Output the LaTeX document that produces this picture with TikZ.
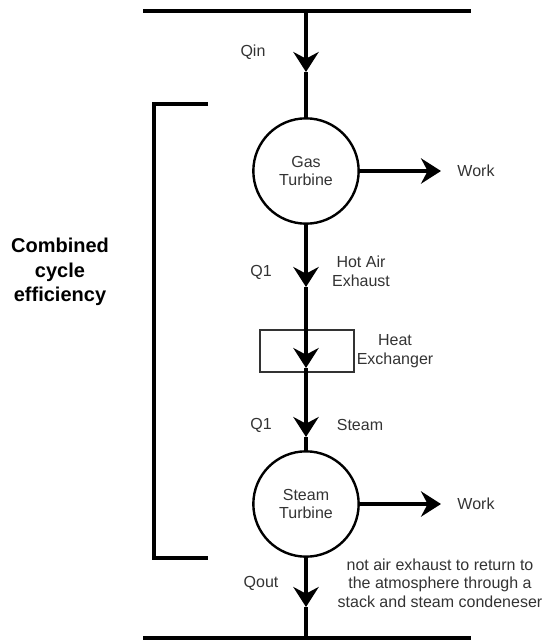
\documentclass[tikz,border=0pt]{standalone}
\usepackage{fontspec}
\setmainfont{Liberation Sans}
\usetikzlibrary{arrows.meta}
\definecolor{txt}{HTML}{333333}
\tikzset{
  flow/.style={line width=3pt, black},
  flowtip/.style={flow, -{Stealth[length=15pt, width=19pt, inset=5pt]}},
  worktip/.style={line width=3pt, -{Stealth[length=15pt, width=19pt, inset=5pt]}},
  turbine/.style={circle, draw, line width=1.8pt, minimum size=79pt, inner sep=0pt,
    align=center, font=\fontsize{12pt}{13.5pt}\selectfont, text=txt},
  hxbox/.style={draw=txt, line width=1.6pt, minimum width=70pt, minimum height=31pt, inner sep=0pt},
  lbl/.style={font=\fontsize{12pt}{14pt}\selectfont, text=txt, align=center, inner sep=0pt},
  bigl/.style={font=\bfseries\fontsize{15pt}{18.5pt}\selectfont, align=center, inner sep=0pt},
  rail/.style={line width=3pt, black},
}
\begin{document}
\begin{tikzpicture}[x=0.75pt, y=-0.75pt]
\useasboundingbox (0,0) rectangle (545,644);

% supply and exhaust rails
\coordinate (topL) at (143,11);
\coordinate (topR) at (471,11);
\coordinate (botL) at (143,638);
\coordinate (botR) at (471,638);
\draw[rail] (topL) -- (topR);
\draw[rail] (botL) -- (botR);

% components
\node[turbine] (gt) at (306,171) {Gas\\Turbine};
\node[hxbox] (hx) at (307,351) {};
\node[turbine] (st) at (306,504) {Steam\\Turbine};

% flow path points
\coordinate (qinTop) at (306,11);
\coordinate (qinTip) at (306,72);
\coordinate (hotTip) at (306,287);
\coordinate (hxTip) at (306,368);
\coordinate (stmTip) at (306,437);
\coordinate (outTip) at (306,607);
\coordinate (outEnd) at (306,638);
\coordinate (gtWork) at (441,171);
\coordinate (stWork) at (441,504);

% main heat flow
\draw[flowtip] (qinTop) -- (qinTip);
\draw[flow] (qinTip) -- (gt.north);
\draw[flowtip] (gt.south) -- (hotTip);
\draw[flowtip] (hotTip) -- (hxTip);
\draw[flowtip] (hxTip) -- (stmTip);
\draw[flow] (stmTip) -- (st.north);
\draw[flowtip] (st.south) -- (outTip);
\draw[flow] (outTip) -- (outEnd);

% work output
\draw[worktip] (gt.east) -- (gtWork);
\draw[worktip] (st.east) -- (stWork);

% bracket around the combined cycle
\coordinate (brTop) at (208,104);
\coordinate (brTopL) at (154,104);
\coordinate (brBotL) at (154,558);
\coordinate (brBot) at (208,558);
\draw[line width=3pt, line join=miter] (brTop) -- (brTopL) -- (brBotL) -- (brBot);

% labels
\node[lbl] (lqin) at (253,52) {Qin};
\node[lbl] (lw1) at (476,171) {Work};
\node[lbl] (lq1a) at (261,272) {Q1};
\node[lbl] (lhot) at (361,271) {Hot Air\\Exhaust};
\node[lbl] (lhx) at (395,351) {Heat\\Exchanger};
\node[lbl] (lq1b) at (261,425) {Q1};
\node[lbl] (lstm) at (360,425) {Steam};
\node[lbl] (lw2) at (476,504) {Work};
\node[lbl] (lqout) at (261,583) {Qout};
\node[lbl] (lnote) at (440,583) {not air exhaust to return to\\the atmosphere through a\\stack and steam condeneser};
\node[bigl] (lcc) at (60,272) {Combined\\cycle\\efficiency};
\end{tikzpicture}
\end{document}
